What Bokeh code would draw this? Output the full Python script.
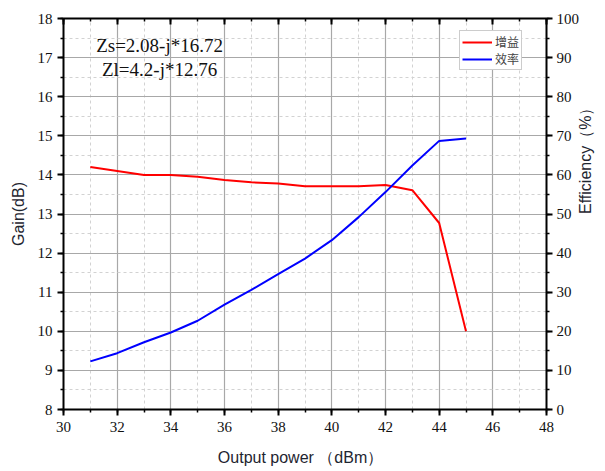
import math
from bokeh.plotting import figure
from bokeh.models import (Range1d, LinearAxis, SingleIntervalTicker, Legend, LegendItem,
                          ColumnDataSource)
from bokeh.core.properties import value
from bokeh.embed import file_html
from bokeh.resources import INLINE

power = [31, 32, 33, 34, 35, 36, 37, 38, 39, 40, 41, 42, 43, 44, 45]
gain = [14.2, 14.1, 14.0, 14.0, 13.95, 13.87, 13.81, 13.78, 13.71, 13.71, 13.71, 13.74, 13.61, 12.77, 10.0]
efficiency = [12.3, 14.4, 17.2, 19.7, 22.7, 26.8, 30.6, 34.6, 38.6, 43.3, 49.2, 55.6, 62.4, 68.7, 69.3]
series_names = ["增益", "效率"]
notes = ["Zs=2.08-j*16.72", "Zl=4.2-j*12.76"]
note_x = [33.58, 33.58]
note_y = [17.3, 16.69]

SERIF = "Liberation Serif"
SANS = "Liberation Sans"

p = figure(width=605, height=471, output_backend="svg", toolbar_location=None,
           x_range=Range1d(30, 48), y_range=Range1d(8, 18),
           min_border_left=63, min_border_right=59, min_border_top=18, min_border_bottom=62,
           background_fill_color="white", border_fill_color="white")
p.outline_line_color = None
p.extra_y_ranges = {"eff": Range1d(0, 100)}

bottom = p.below[0]
left = p.left[0]
bottom.ticker = SingleIntervalTicker(interval=2, num_minor_ticks=2)
left.ticker = SingleIntervalTicker(interval=1, num_minor_ticks=2)
right = LinearAxis(y_range_name="eff", ticker=SingleIntervalTicker(interval=10, num_minor_ticks=2),
                   axis_label="Efficiency（%）")
p.add_layout(right, "right")
top = LinearAxis(ticker=SingleIntervalTicker(interval=2, num_minor_ticks=2))
p.add_layout(top, "above")

for ax in [bottom, left, right, top]:
    ax.axis_line_width = 2
    ax.axis_line_color = "black"
    ax.major_tick_line_width = 2
    ax.minor_tick_line_width = 1.5
    ax.major_tick_line_color = "black"
    ax.minor_tick_line_color = "black"
    ax.major_tick_out = 6
    ax.major_tick_in = 0
    ax.minor_tick_out = 3
    ax.minor_tick_in = 0
    ax.major_label_text_font = SERIF
    ax.major_label_text_font_size = "15px"
    ax.major_label_text_color = "#111111"
    ax.axis_label_text_font = SANS
    ax.axis_label_text_font_size = "16px"
    ax.axis_label_text_font_style = "normal"
    ax.axis_label_text_color = "#1e2530"

top.major_tick_out = 0
top.major_tick_in = 6
top.minor_tick_out = 0
top.minor_tick_in = 3
top.major_label_text_alpha = 0
top.major_label_text_font_size = "1px"
top.major_label_standoff = 0

bottom.axis_label = "Output power   （dBm）"
left.axis_label = "Gain(dB)"
bottom.axis_label_standoff = 14
left.axis_label_standoff = 8
right.axis_label_standoff = 3
right.axis_label_orientation = math.pi / 2
bottom.major_label_standoff = 6
left.major_label_standoff = 5
right.major_label_standoff = 4

for g in [p.xgrid[0], p.ygrid[0]]:
    g.grid_line_color = "#a8a8a8"
    g.grid_line_width = 1.2
    g.minor_grid_line_color = "#d2d2d2"
    g.minor_grid_line_dash = "3 3"
    g.minor_grid_line_width = 1
p.xgrid[0].ticker = bottom.ticker
p.ygrid[0].ticker = left.ticker

src = ColumnDataSource(dict(x=power, g=gain, e=efficiency))
r1 = p.line("x", "g", source=src, line_color="#ff0000", line_width=2)
r2 = p.line("x", "e", source=src, line_color="#0000ff", line_width=2, y_range_name="eff")

legend = Legend(items=[LegendItem(label=series_names[0], renderers=[r1]),
                       LegendItem(label=series_names[1], renderers=[r2])],
                location=(396, 339), padding=2, spacing=0, margin=0,
                glyph_width=30, glyph_height=14, label_height=14, label_standoff=3,
                label_text_font="Noto Sans CJK SC", label_text_font_size="12px",
                border_line_color="#9a9a9a", border_line_width=1,
                background_fill_color="white", background_fill_alpha=1)
p.add_layout(legend, "center")

nsrc = ColumnDataSource(dict(x=note_x, y=note_y, t=notes))
p.text("x", "y", text="t", source=nsrc, text_font=value(SERIF), text_font_size="19px",
       text_align="center", text_baseline="middle", text_color="#111111")

open("out.html", "w").write(file_html(p, INLINE))
